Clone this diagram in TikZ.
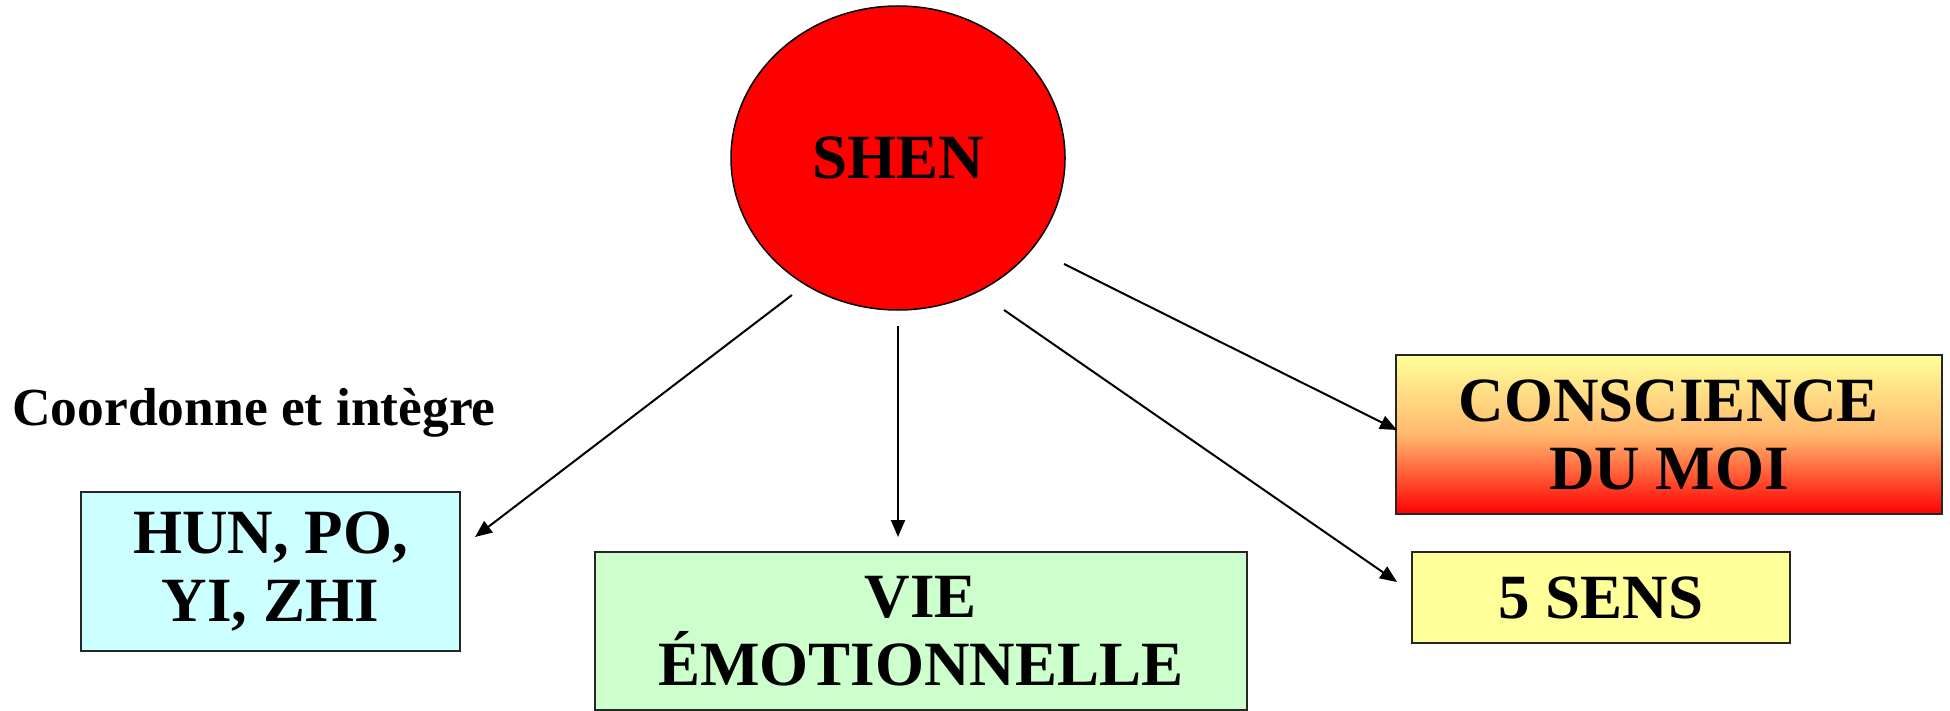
\documentclass[tikz,border=0pt]{standalone}
\usepackage{fontspec}
\setmainfont{Liberation Serif}
\usetikzlibrary{shapes.geometric,arrows.meta}
\definecolor{cyanbox}{HTML}{CCFFFF}
\definecolor{greenbox}{HTML}{CCFFCC}
\definecolor{yellowbox}{HTML}{FFFF99}
\definecolor{redfill}{HTML}{FF0000}
\definecolor{midorange}{HTML}{FFB86E}
\tikzset{
  boxstyle/.style={draw=black!85, line width=2pt, rectangle, inner sep=0pt, align=center,
    font=\bfseries\fontsize{63}{68}\selectfont},
  conn/.style={draw=black, line width=2pt, -{Triangle[length=17pt,width=14pt]}},
}
\begin{document}
\begin{tikzpicture}[x=1pt,y=-1pt]
\useasboundingbox (0,0) rectangle (1950,711);
% central ellipse
\node[ellipse, draw=black, line width=1.5pt, fill=redfill, minimum width=334pt, minimum height=304pt, inner sep=0pt,
  font=\bfseries\fontsize{63}{68}\selectfont] (shen) at (898,158) {SHEN};
% boxes
\node[boxstyle, fill=cyanbox, minimum width=379pt, minimum height=159pt] (hun) at (270.5,571.5) {HUN, PO,\\YI, ZHI};
\node[boxstyle, fill=greenbox, minimum width=652pt, minimum height=158pt] (vie) at (921,631) {VIE\\ÉMOTIONNELLE};
\node[boxstyle, top color=yellowbox, bottom color=redfill, middle color=midorange, minimum width=546pt, minimum height=159pt] (conscience) at (1669,434.5) {CONSCIENCE\\DU MOI};
\node[boxstyle, fill=yellowbox, minimum width=378pt, minimum height=91pt] (sens) at (1601,597.5) {5 SENS};
% label
\node[anchor=base west, inner sep=0pt, font=\bfseries\fontsize{53.5}{60}\selectfont] (coord) at (12,425) {Coordonne et intègre};
% connector endpoints
\coordinate (s1) at (792,295);
\coordinate (e1) at (475,537);
\coordinate (s2) at (898,326);
\coordinate (e2) at (898,537);
\coordinate (s3) at (1004,310);
\coordinate (e3) at (1397,582);
\coordinate (s4) at (1064,264);
\coordinate (e4) at (1397,430);
\draw[conn] (s1) -- (e1);
\draw[conn] (s2) -- (e2);
\draw[conn] (s3) -- (e3);
\draw[conn] (s4) -- (e4);
\end{tikzpicture}
\end{document}
